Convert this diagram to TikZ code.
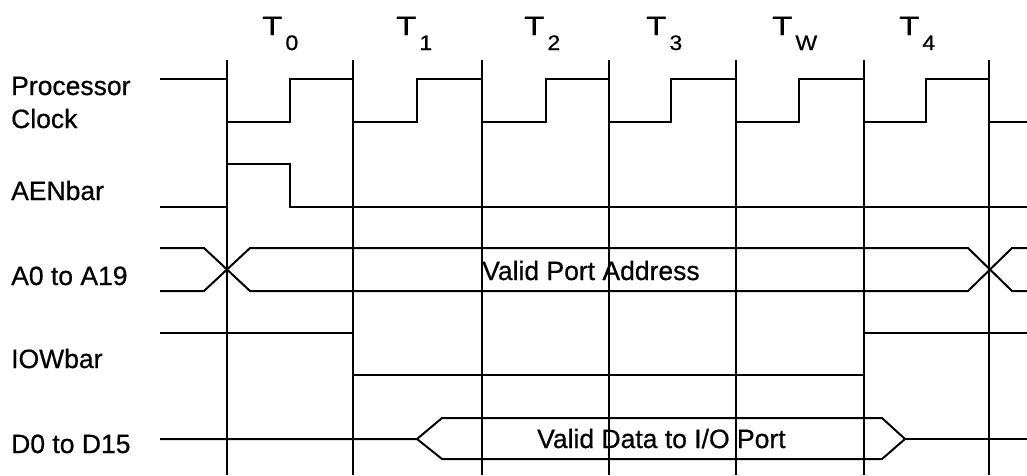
\documentclass[tikz,border=0pt]{standalone}
\usepackage{fontspec}
\setmainfont{Liberation Sans}[BoldFont=Liberation Sans, BoldFeatures={FakeBold=0.6}]
\newcommand\Tlab[1]{\scalebox{1.25}[1]{T}\kern3pt\raisebox{-15pt}{\fontsize{21}{22}\selectfont\scalebox{1.1}[1]{#1}}}
\begin{document}
\begin{tikzpicture}[x=1pt,y=-1pt,
  sig/.style={line width=2pt, line join=miter},
  gridline/.style={line width=1.4pt},
  lbl/.style={anchor=base west, inner sep=0pt, align=left, font=\fontsize{26.5}{33}\selectfont\bfseries},
  tlbl/.style={anchor=base west, inner sep=0pt, font=\fontsize{26.5}{30}\selectfont\bfseries}]
\useasboundingbox (0,0) rectangle (1027,475);
% period boundaries
\foreach \x in {227,353,482,609,736,864,989} \draw[gridline] (\x,60) -- (\x,475);
% period labels
\node[tlbl] (t0) at (262,35) {\Tlab{0}};
\node[tlbl] (t1) at (396,35) {\Tlab{1}};
\node[tlbl] (t2) at (524,35) {\Tlab{2}};
\node[tlbl] (t3) at (646,35) {\Tlab{3}};
\node[tlbl] (tw) at (772,35) {\Tlab{W}};
\node[tlbl] (t4) at (899,35) {\Tlab{4}};
% signal names
\node[lbl] (clk) at (11,128) {Processor\\Clock};
\node[lbl] (aen) at (11,200) {AENbar};
\node[lbl] (addr) at (11,285) {A0 to A19};
\node[lbl] (iow) at (11,368) {IOWbar};
\node[lbl] (data) at (11,453) {D0 to D15};
% clock
\draw[sig] (160,79) -- (227,79) -- (227,122) -- (290,122) -- (290,79) -- (353,79)
  -- (353,122) -- (417,122) -- (417,79) -- (482,79) -- (482,122) -- (546,122)
  -- (546,79) -- (609,79) -- (609,122) -- (671,122) -- (671,79) -- (736,79)
  -- (736,122) -- (799,122) -- (799,79) -- (864,79) -- (864,122) -- (926,122)
  -- (926,79) -- (989,79) -- (989,122) -- (1027,122);
% AENbar
\draw[sig] (160,207) -- (227,207) -- (227,164) -- (290,164) -- (290,207) -- (1027,207);
% address bus
\draw[sig] (160,248) -- (204,248) -- (250,291) -- (968,291) -- (1012,248) -- (1027,248);
\draw[sig] (160,291) -- (204,291) -- (250,248) -- (968,248) -- (1012,291) -- (1027,291);
\node[tlbl] (va) at (482,280) {Valid Port Address};
% IOWbar
\draw[sig] (160,333) -- (353,333) -- (353,375) -- (864,375) -- (864,333) -- (1027,333);
% data bus
\draw[sig] (160,439) -- (417,439) -- (442,418) -- (882,418) -- (905,439) -- (882,459) -- (442,459) -- (417,439);
\draw[sig] (905,439) -- (1027,439);
\node[tlbl] (vd) at (537,448) {Valid Data to I/O Port};
\end{tikzpicture}
\end{document}
